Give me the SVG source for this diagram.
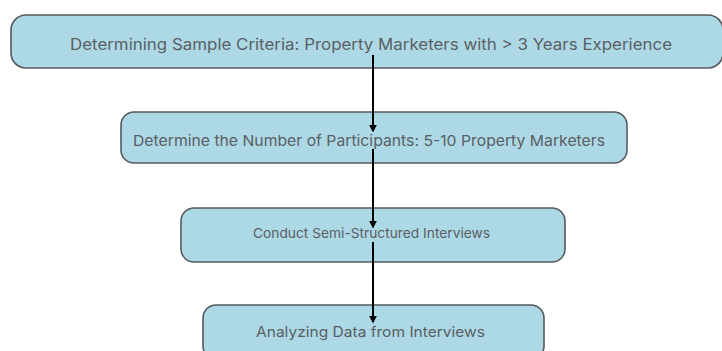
<svg xmlns="http://www.w3.org/2000/svg" width="722" height="351" viewBox="0 0 722 351">
  <style>
    .box { fill: #add8e6; stroke: #555a5e; stroke-width: 1.6; }
    .label { font-family: Inter, Roboto, "Liberation Sans", sans-serif; fill: #5a5f63; text-anchor: middle; }
    .edge { stroke: #000; stroke-width: 2; fill: none; marker-end: url(#arrow); }
  </style>
  <defs>
    <marker id="arrow" markerWidth="4" markerHeight="4" refX="3.2" refY="2" orient="auto" markerUnits="strokeWidth">
      <path d="M0,0 L4,2 L0,4 Z" fill="#000"/>
    </marker>
  </defs>

  <g id="node-criteria">
    <rect class="box" x="11" y="15" width="712" height="53" rx="15" ry="15"/>
    <text class="label" x="371" y="50" font-size="15.5" textLength="602" lengthAdjust="spacingAndGlyphs">Determining Sample Criteria: Property Marketers with &gt; 3 Years Experience</text>
  </g>

  <g id="node-participants">
    <rect class="box" x="121" y="112" width="506" height="51" rx="13" ry="13"/>
    <text class="label" x="369" y="146" font-size="15" textLength="472" lengthAdjust="spacingAndGlyphs">Determine the Number of Participants: 5-10 Property Marketers</text>
  </g>

  <g id="node-interviews">
    <rect class="box" x="181" y="208" width="384" height="54" rx="13" ry="13"/>
    <text class="label" x="371.5" y="238" font-size="13.5" textLength="237" lengthAdjust="spacingAndGlyphs">Conduct Semi-Structured Interviews</text>
  </g>

  <g id="node-analysis">
    <rect class="box" x="203" y="305" width="341" height="54" rx="13" ry="13"/>
    <text class="label" x="370.5" y="337" font-size="14.5" textLength="229" lengthAdjust="spacingAndGlyphs">Analyzing Data from Interviews</text>
  </g>

  <g id="connectors">
    <line class="edge" x1="373" y1="55" x2="373" y2="131"/>
    <line class="edge" x1="373" y1="149" x2="373" y2="227"/>
    <line class="edge" x1="373" y1="242" x2="373" y2="322"/>
  </g>
</svg>
